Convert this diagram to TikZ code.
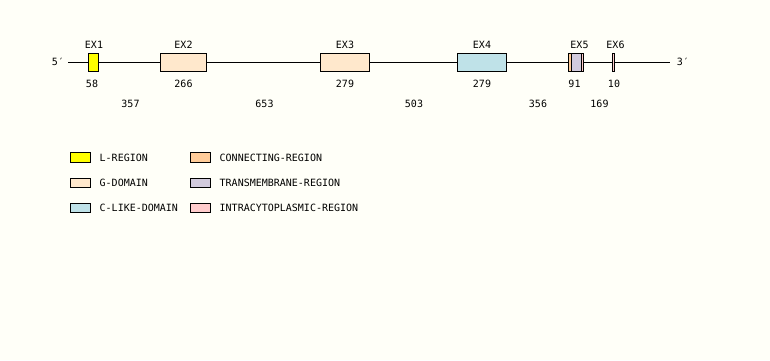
\documentclass[tikz,border=0pt]{standalone}
\usepackage{fontspec}
\setmainfont{DejaVu Sans Mono}
\definecolor{bg}{HTML}{FFFFF8}
\definecolor{lreg}{HTML}{FFFF00}
\definecolor{gdom}{HTML}{FFE8CC}
\definecolor{cdom}{HTML}{BFE2E8}
\definecolor{conn}{HTML}{FFCC99}
\definecolor{tmem}{HTML}{D2CBDD}
\definecolor{intra}{HTML}{FFCCCC}
\begin{document}
\begin{tikzpicture}[x=1pt,y=-1pt,
  txt/.style={font=\fontsize{10}{12}\selectfont,inner sep=0pt},
  exon/.style={draw=black,line width=1pt},
  leg/.style={draw=black,line width=1pt,minimum width=20pt,minimum height=9.5pt,inner sep=0pt}]
\fill[bg] (0,0) rectangle (770,360);
\useasboundingbox (0,0) rectangle (770,360);
% gene line
\coordinate (L) at (68,62.5);
\coordinate (R) at (670,62.5);
\draw[line width=1pt] (L) -- (R);
\node[txt] (p5) at (58,62) {5′};
\node[txt] (p3) at (683,62) {3′};
% exons
\filldraw[exon,fill=lreg] (88.5,53.5) rectangle (98.5,71.5);
\filldraw[exon,fill=gdom] (160.5,53.5) rectangle (206.5,71.5);
\filldraw[exon,fill=gdom] (320.5,53.5) rectangle (369.5,71.5);
\filldraw[exon,fill=cdom] (457.5,53.5) rectangle (506.5,71.5);
\fill[conn] (569,53.5) rectangle (571.5,71.5);
\fill[tmem] (571.5,53.5) rectangle (581.5,71.5);
\fill[intra] (581.5,53.5) rectangle (583.5,71.5);
\draw[line width=1pt] (571.5,53.5) -- (571.5,71.5);
\draw[line width=1pt] (581.5,53.5) -- (581.5,71.5);
\draw[exon] (568.5,53.5) rectangle (583.5,71.5);
\filldraw[exon,fill=intra] (612.5,53.5) rectangle (614.5,71.5);
% exon labels
\node[txt] (e1) at (94,44.5) {EX1};
\node[txt] (e2) at (183.5,44.5) {EX2};
\node[txt] (e3) at (345,44.5) {EX3};
\node[txt] (e4) at (482,44.5) {EX4};
\node[txt] (e5) at (579.5,44.5) {EX5};
\node[txt] (e6) at (615.5,44.5) {EX6};
% exon lengths
\node[txt] (n1) at (92,84) {58};
\node[txt] (n2) at (183.5,84) {266};
\node[txt] (n3) at (345,84) {279};
\node[txt] (n4) at (482,84) {279};
\node[txt] (n5) at (574.5,84) {91};
\node[txt] (n6) at (614,84) {10};
% intron lengths
\node[txt] (i1) at (130.5,104) {357};
\node[txt] (i2) at (264.5,104) {653};
\node[txt] (i3) at (414,104) {503};
\node[txt] (i4) at (538,104) {356};
\node[txt] (i5) at (599.5,104) {169};
% legend
\node[leg,fill=lreg] (l1) at (80.5,157.5) {};
\node[leg,fill=gdom] (l2) at (80.5,183) {};
\node[leg,fill=cdom] (l3) at (80.5,208) {};
\node[leg,fill=conn] (l4) at (200.5,157.5) {};
\node[leg,fill=tmem] (l5) at (200.5,183) {};
\node[leg,fill=intra] (l6) at (200.5,208) {};
\node[txt,anchor=west] (t1) at (99.5,157.5) {L-REGION};
\node[txt,anchor=west] (t2) at (99.5,183) {G-DOMAIN};
\node[txt,anchor=west] (t3) at (99.5,208) {C-LIKE-DOMAIN};
\node[txt,anchor=west] (t4) at (219.5,157.5) {CONNECTING-REGION};
\node[txt,anchor=west] (t5) at (219.5,183) {TRANSMEMBRANE-REGION};
\node[txt,anchor=west] (t6) at (219.5,208) {INTRACYTOPLASMIC-REGION};
\end{tikzpicture}
\end{document}
